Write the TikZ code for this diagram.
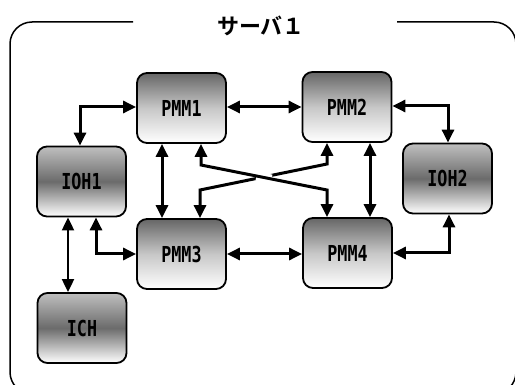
\documentclass[tikz,border=0pt]{standalone}
\usepackage{fontspec}
\usetikzlibrary{arrows.meta,calc}
\newfontfamily\titlefont{Noto Sans CJK JP Bold}
\newfontfamily\boxfont{DejaVu Sans Mono Bold}
\newcommand{\boxlabel}[1]{\scalebox{0.76}[1]{#1}}
\tikzset{
  unitbox/.style={draw, line width=1.8pt, rounded corners=10pt,
    minimum width=89pt, minimum height=70pt, inner sep=0pt,
    font=\boxfont\fontsize{22}{22}\selectfont},
  pmmbox/.style={unitbox, top color=black!60, bottom color=white, middle color=black!22},
  iohbox/.style={unitbox, top color=black!25, bottom color=white, middle color=black!58},
  link/.style={line width=3pt, {Triangle[length=13pt,width=12pt]}-{Triangle[length=13pt,width=12pt]}},
  thinlink/.style={line width=2pt, {Triangle[length=13pt,width=12pt]}-{Triangle[length=13pt,width=12pt]}},
}
\begin{document}
\begin{tikzpicture}[x=1pt,y=-1pt]
\useasboundingbox (0,0) rectangle (515,385);
\begin{scope}
\clip (0,0) rectangle (515,385);
% server enclosure with an opening for its title
\draw[line width=1.5pt, rounded corners=22pt]
  (133,22) -- (10,22) -- (10,394) -- (516,394) -- (516,22) -- (397,22);
\end{scope}
\node[font=\titlefont\fontsize{22}{22}\selectfont] (title) at (261,26) {サーバ１};

% units
\node[pmmbox] (pmm1) at (181.5,108) {\boxlabel{PMM1}};
\node[pmmbox] (pmm2) at (347,107) {\boxlabel{PMM2}};
\node[pmmbox] (pmm3) at (181.5,254) {\boxlabel{PMM3}};
\node[pmmbox] (pmm4) at (347.5,253) {\boxlabel{PMM4}};
\node[iohbox] (ioh1) at (81.5,181.5) {\boxlabel{IOH1}};
\node[iohbox] (ioh2) at (447.5,178.5) {\boxlabel{IOH2}};
\node[iohbox] (ich)  at (82,328) {\boxlabel{ICH}};

% bend points of the crossed links
\coordinate (xa) at (201,165);
\coordinate (xb) at (327,190);
\coordinate (ya) at (327,164);
\coordinate (yb) at (200,190);

% links
\draw[link] (ioh1.north -| 80,0) |- (pmm1.west |- 0,107);
\draw[link] (pmm1.east |- 0,107) -- (pmm2.west |- 0,107);
\draw[link] (pmm2.east |- 0,106) -| (ioh2.north -| 448,0);
\draw[link] (pmm1.south -| 162,0) -- (pmm3.north -| 162,0);
\draw[link] (pmm2.south -| 370,0) -- (pmm4.north -| 370,0);
\draw[link] (pmm2.south -| ya) -- (ya) -- (yb) -- (pmm3.north -| yb);
\draw[white, line width=9pt] ($(xa)!0.44!(xb)$) -- ($(xa)!0.56!(xb)$);
\draw[link] (pmm1.south -| xa) -- (xa) -- (xb) -- (pmm4.north -| xb);
\draw[link] (ioh1.south -| 96,0) |- (pmm3.west |- 0,254);
\draw[link] (pmm3.east |- 0,254) -- (pmm4.west |- 0,254);
\draw[link] (pmm4.east |- 0,253) -| (ioh2.south -| 449,0);
\draw[thinlink] (ioh1.south -| 68,0) -- (ich.north -| 68,0);
\end{tikzpicture}
\end{document}
